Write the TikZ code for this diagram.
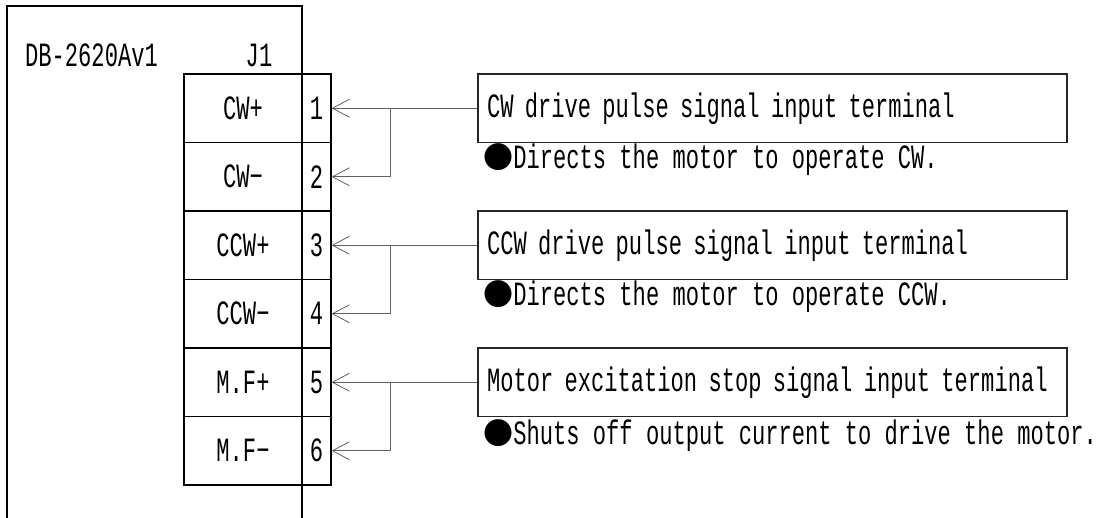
\documentclass[tikz,border=0pt]{standalone}
\usepackage{fontspec}
\setmainfont{Liberation Mono}[FakeStretch=0.65]
\newfontfamily\cjk{Noto Sans CJK JP}
\usetikzlibrary{arrows.meta}
\newcommand{\blt}{\makebox[26.2pt][l]{\hspace{-3.5pt}\cjk\fontsize{30}{30}\selectfont ●}}
\tikzset{
  frame/.style={draw=black, line width=1.3pt},
  cell/.style={draw=black, line width=1.2pt, inner sep=0pt, minimum height=68.5pt},
  lab/.style={cell, minimum width=118pt},
  num/.style={cell, minimum width=29pt},
  descbox/.style={draw=black!85, line width=1.2pt, inner sep=0pt, minimum height=68.5pt,
    minimum width=589pt, text width=571pt, align=left},
  note/.style={anchor=base west, inner sep=0pt},
  conn/.style={draw=black!62, line width=1pt},
  tipv/.style={-{Straight Barb[length=17pt, width=18pt, line width=0.8pt]}},
}
\begin{document}
\begin{tikzpicture}[x=1pt, y=-1pt, font=\fontsize{34}{36}\selectfont]
\useasboundingbox (0,0) rectangle (1100,518);
% outer board outline (open at bottom)
\coordinate (ob1) at (7,518);
\coordinate (ob2) at (7,6);
\coordinate (ob3) at (302,6);
\coordinate (ob4) at (302,518);
\draw[frame] (ob1) -- (ob2) -- (ob3) -- (ob4);
\node[note] (title) at (25,67) {DB-2620Av1};
\node[anchor=base, inner sep=0pt] (j1) at (259,67) {J1};
% connector cells
\node[lab] (l1) at (243,108.25) {CW+};
\node[lab] (l2) at (243,176.75) {CW−};
\node[lab] (l3) at (243,245.25) {CCW+};
\node[lab] (l4) at (243,313.75) {CCW−};
\node[lab] (l5) at (243,382.25) {M.F+};
\node[lab] (l6) at (243,450.75) {M.F−};
\node[num] (p1) at (316.5,108.25) {1};
\node[num] (p2) at (316.5,176.75) {2};
\node[num] (p3) at (316.5,245.25) {3};
\node[num] (p4) at (316.5,313.75) {4};
\node[num] (p5) at (316.5,382.25) {5};
\node[num] (p6) at (316.5,450.75) {6};
% description boxes
\node[descbox] (d1) at (772.5,108.25) {CW drive pulse signal input terminal};
\node[descbox] (d2) at (772.5,245.25) {CCW drive pulse signal input terminal};
\node[descbox] (d3) at (772.5,382.25) {Motor excitation stop signal input terminal};
\node[note] (n1) at (487,169) {\blt Directs the motor to operate CW.};
\node[note] (n2) at (487,306) {\blt Directs the motor to operate CCW.};
\node[note] (n3) at (487,444) {\blt Shuts off output current to drive the motor.};
% connectors
\coordinate (b1) at (390,108.25);
\coordinate (b3) at (390,245.25);
\coordinate (b5) at (390,382.25);
\draw[conn, tipv] (d1.west) -- (p1.east);
\draw[conn, tipv] (b1) |- (p2.east);
\draw[conn, tipv] (d2.west) -- (p3.east);
\draw[conn, tipv] (b3) |- (p4.east);
\draw[conn, tipv] (d3.west) -- (p5.east);
\draw[conn, tipv] (b5) |- (p6.east);
\end{tikzpicture}
\end{document}
